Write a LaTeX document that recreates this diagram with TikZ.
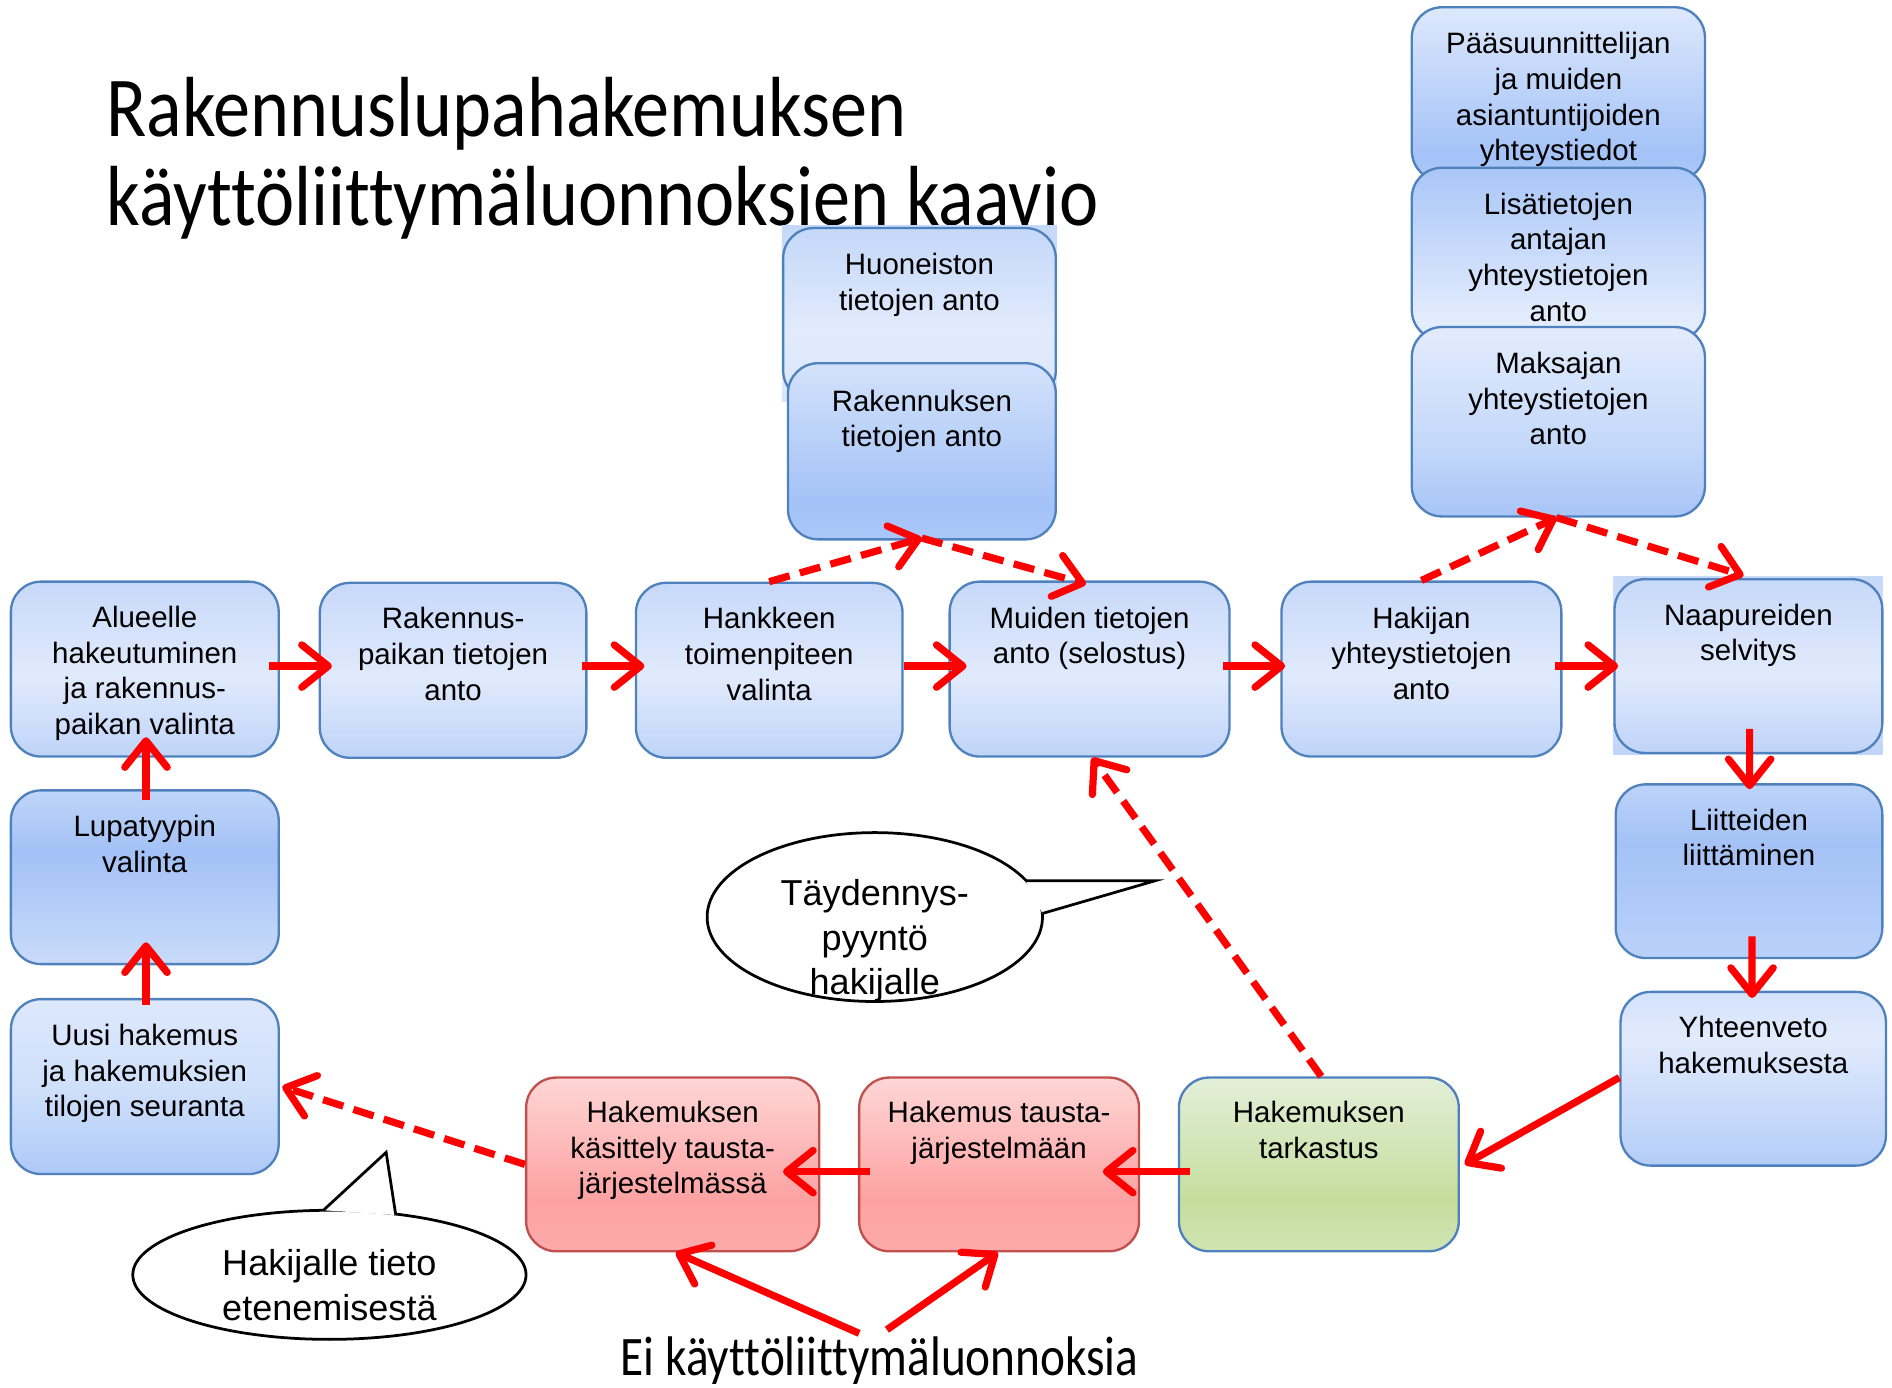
\documentclass[tikz,border=0pt]{standalone}
\usepackage{fontspec}
\usepackage{graphicx}
\setmainfont{Liberation Sans}
\newfontfamily\calib[Ligatures=NoCommon]{Carlito}
\usetikzlibrary{arrows.meta,calc,shapes.geometric}

\definecolor{bordB}{HTML}{4F81BD}
\definecolor{bordR}{HTML}{C0504D}
\definecolor{arrRed}{HTML}{FF0000}
\definecolor{rowT}{HTML}{C7D9F9}\definecolor{rowM}{HTML}{E1EAFC}\definecolor{rowB}{HTML}{BFD4F9}
\definecolor{lupT}{HTML}{C0D5F9}\definecolor{lupM}{HTML}{A3C1F6}\definecolor{lupB}{HTML}{C9DBFA}
\definecolor{liiT}{HTML}{BDD3F9}\definecolor{liiM}{HTML}{A4C2F6}\definecolor{liiB}{HTML}{BAD1F9}
\definecolor{huoT}{HTML}{C4D8F9}\definecolor{huoM}{HTML}{E2EBFD}\definecolor{huoB}{HTML}{DAE6FC}
\definecolor{rkrT}{HTML}{D3E2FB}\definecolor{rkrM}{HTML}{A3C2F7}\definecolor{rkrB}{HTML}{AAC7F8}
\definecolor{paaT}{HTML}{DDE8FC}\definecolor{paaM}{HTML}{A3C2F7}\definecolor{paaB}{HTML}{B0CBF8}
\definecolor{lisT}{HTML}{A9C6F7}\definecolor{lisM}{HTML}{E4EDFD}\definecolor{lisB}{HTML}{DFE9FC}
\definecolor{makT}{HTML}{E3ECFD}\definecolor{makM}{HTML}{C5D9FA}\definecolor{makB}{HTML}{A8C5F7}
\definecolor{yhtT}{HTML}{D2E1FB}\definecolor{yhtM}{HTML}{E2EBFD}\definecolor{yhtB}{HTML}{B4CDF8}
\definecolor{uusT}{HTML}{DDE8FC}\definecolor{uusM}{HTML}{CFE0FB}\definecolor{uusB}{HTML}{AEC9F8}
\definecolor{redT}{HTML}{FFD6D6}\definecolor{redM}{HTML}{FDA2A2}\definecolor{redB}{HTML}{FDAAAA}
\definecolor{grnT}{HTML}{E3EFD8}\definecolor{grnM}{HTML}{C5DE9E}\definecolor{grnB}{HTML}{D0E4B2}

\pgfdeclareverticalshading{shRow}{100bp}{color(0bp)=(rowB); color(25bp)=(rowB); color(48bp)=(rowM); color(75bp)=(rowT); color(100bp)=(rowT)}
\pgfdeclareverticalshading{shLupa}{100bp}{color(0bp)=(lupB); color(25bp)=(lupB); color(57bp)=(lupM); color(75bp)=(lupT); color(100bp)=(lupT)}
\pgfdeclareverticalshading{shLiit}{100bp}{color(0bp)=(liiB); color(25bp)=(liiB); color(58bp)=(liiM); color(75bp)=(liiT); color(100bp)=(liiT)}
\pgfdeclareverticalshading{shHuon}{100bp}{color(0bp)=(huoB); color(25bp)=(huoB); color(45bp)=(huoM); color(75bp)=(huoT); color(100bp)=(huoT)}
\pgfdeclareverticalshading{shRakr}{100bp}{color(0bp)=(rkrB); color(25bp)=(rkrB); color(35bp)=(rkrM); color(75bp)=(rkrT); color(100bp)=(rkrT)}
\pgfdeclareverticalshading{shPaa}{100bp}{color(0bp)=(paaB); color(25bp)=(paaB); color(32bp)=(paaM); color(75bp)=(paaT); color(100bp)=(paaT)}
\pgfdeclareverticalshading{shLisa}{100bp}{color(0bp)=(lisB); color(25bp)=(lisB); color(30bp)=(lisM); color(75bp)=(lisT); color(100bp)=(lisT)}
\pgfdeclareverticalshading{shMaks}{100bp}{color(0bp)=(makB); color(25bp)=(makB); color(45bp)=(makM); color(75bp)=(makT); color(100bp)=(makT)}
\pgfdeclareverticalshading{shYht}{100bp}{color(0bp)=(yhtB); color(25bp)=(yhtB); color(62bp)=(yhtM); color(75bp)=(yhtT); color(100bp)=(yhtT)}
\pgfdeclareverticalshading{shUusi}{100bp}{color(0bp)=(uusB); color(25bp)=(uusB); color(50bp)=(uusM); color(75bp)=(uusT); color(100bp)=(uusT)}
\pgfdeclareverticalshading{shRed}{100bp}{color(0bp)=(redB); color(25bp)=(redB); color(40bp)=(redM); color(75bp)=(redT); color(100bp)=(redT)}
\pgfdeclareverticalshading{shGreen}{100bp}{color(0bp)=(grnB); color(25bp)=(grnB); color(40bp)=(grnM); color(75bp)=(grnT); color(100bp)=(grnT)}

\tikzset{
  box/.style={rectangle, rounded corners=0.5cm, draw=bordB, line width=1.1pt, inner sep=0pt, shade},
  redbox/.style={box, draw=bordR, shading=shRed},
  txt/.style={align=center, inner sep=0pt, font=\fontsize{13.9}{16.8}\selectfont, yshift=-0.05cm},
  ctxt/.style={align=center, inner sep=0pt, font=\fontsize{17}{21}\selectfont, yshift=-0.06cm},
  arr/.style={draw=arrRed, line width=3.4pt, -{Straight Barb[length=12.5pt, width=20pt, round]}},
  darr/.style={arr, dash pattern=on 10pt off 5pt},
  callout/.style={ellipse, draw=black, line width=1.3pt, fill=white, inner sep=0pt},
  tail/.style={draw=black, line width=1.3pt, line join=miter},
}

\begin{document}
\begin{tikzpicture}[x=0.02cm, y=-0.02cm]
\useasboundingbox (0,0) rectangle (1568,1150);

% title
\node[anchor=base west, inner sep=0pt, font=\calib\fontsize{35}{40}\selectfont] (title1) at (88,113) {\scalebox{1}[1.15]{Rakennuslupahakemuksen}};
\node[anchor=base west, inner sep=0pt, font=\calib\fontsize{35}{40}\selectfont] (title2) at (88,187) {\scalebox{1}[1.15]{käyttöliittymäluonnoksien kaavio}};

% top middle stack
\shade[shading=shHuon] (648,187) rectangle (876,333);
\node[box, shading=shHuon, minimum width=4.52cm, minimum height=2.86cm] (huon) at (762,260.5) {};
\node[txt] (huonT) at (762,234) {\strut Huoneiston\\tietojen anto\strut};
\node[box, shading=shRakr, minimum width=4.44cm, minimum height=2.92cm] (rakr) at (764,374) {};
\node[txt] (rakrT) at (764,347) {\strut Rakennuksen\\tietojen anto\strut};

% top right stack
\node[box, shading=shPaa, minimum width=4.86cm, minimum height=2.88cm] (paa) at (1291.5,78) {};
\node[txt] (paaT) at (1291.5,80.5) {\strut Pääsuunnittelijan\\ja muiden\\asiantuntijoiden\\yhteystiedot\strut};
\node[box, shading=shLisa, minimum width=4.86cm, minimum height=2.86cm] (lisa) at (1291.5,210.5) {};
\node[txt] (lisaT) at (1291.5,213.5) {\strut Lisätietojen\\antajan\\yhteystietojen\\anto\strut};
\node[box, shading=shMaks, minimum width=4.86cm, minimum height=3.14cm] (maks) at (1291.5,349.5) {};
\node[txt] (maksT) at (1291.5,330.7) {\strut Maksajan\\yhteystietojen\\anto\strut};

% main row
\node[box, shading=shRow, minimum width=4.44cm, minimum height=2.9cm] (alue) at (120,554.5) {};
\node[txt] (alueT) at (120,556) {\strut Alueelle\\hakeutuminen\\ja rakennus-\\paikan valinta\strut};
\node[box, shading=shRow, minimum width=4.42cm, minimum height=2.9cm] (rakp) at (375.5,555.5) {};
\node[txt] (rakpT) at (375.5,542.3) {\strut Rakennus-\\paikan tietojen\\anto\strut};
\node[box, shading=shRow, minimum width=4.42cm, minimum height=2.9cm] (hank) at (637.5,555.5) {};
\node[txt] (hankT) at (637.5,542.3) {\strut Hankkeen\\toimenpiteen\\valinta\strut};
\node[box, shading=shRow, minimum width=4.64cm, minimum height=2.9cm] (muid) at (903,554.5) {};
\node[txt] (muidT) at (903,527) {\strut Muiden tietojen\\anto (selostus)\strut};
\node[box, shading=shRow, minimum width=4.64cm, minimum height=2.9cm] (haki) at (1178,554.5) {};
\node[txt] (hakiT) at (1178,541.7) {\strut Hakijan\\yhteystietojen\\anto\strut};
\shade[shading=shRow] (1337,478) rectangle (1560,625);
\node[box, shading=shRow, minimum width=4.44cm, minimum height=2.88cm] (naap) at (1449,552) {};
\node[txt] (naapT) at (1449,524.5) {\strut Naapureiden\\selvitys\strut};

% right column
\node[box, shading=shLiit, minimum width=4.42cm, minimum height=2.88cm] (liit) at (1449.5,722) {};
\node[txt] (liitT) at (1449.5,694.5) {\strut Liitteiden\\liittäminen\strut};
\node[box, shading=shYht, minimum width=4.4cm, minimum height=2.88cm] (yht) at (1453,894) {};
\node[txt] (yhtT) at (1453,866.5) {\strut Yhteenveto\\hakemuksesta\strut};

% bottom row
\node[box, shading=shGreen, minimum width=4.64cm, minimum height=2.88cm] (tark) at (1093,965) {};
\node[txt] (tarkT) at (1093,937) {\strut Hakemuksen\\tarkastus\strut};
\node[redbox, minimum width=4.64cm, minimum height=2.88cm] (taus) at (828,965) {};
\node[txt] (tausT) at (828,937) {\strut Hakemus tausta-\\järjestelmään\strut};
\node[redbox, minimum width=4.86cm, minimum height=2.88cm] (kasi) at (557.5,965) {};
\node[txt] (kasiT) at (557.5,951.3) {\strut Hakemuksen\\käsittely tausta-\\järjestelmässä\strut};

% left column
\node[box, shading=shLupa, minimum width=4.44cm, minimum height=2.88cm] (lupa) at (120,727) {};
\node[txt] (lupaT) at (120,699.5) {\strut Lupatyypin\\valinta\strut};
\node[box, shading=shUusi, minimum width=4.44cm, minimum height=2.9cm] (uusi) at (120,900.5) {};
\node[txt] (uusiT) at (120,887.7) {\strut Uusi hakemus\\ja hakemuksien\\tilojen seuranta\strut};

% callouts
\node[callout, minimum width=5.56cm, minimum height=2.8cm] (c1) at (725,760) {};
\coordinate (c1a) at ($(c1.center)+(125,-30)$);
\coordinate (c1t) at ($(c1.center)+(232,-30)$);
\coordinate (c1b) at ($(c1.center)+(139,-3)$);
\fill[white] (c1a) -- (c1t) -- (c1b) -- cycle;
\draw[tail] (c1a) -- (c1t) -- (c1b);
\node[ctxt] (c1T) at (725,777) {\strut Täydennys-\\pyyntö\\hakijalle\strut};

\node[callout, minimum width=6.52cm, minimum height=2.14cm] (c2) at (273,1056.5) {};
\coordinate (c2a) at ($(c2.center)+(-5,-53.5)$);
\coordinate (c2t) at ($(c2.center)+(47,-101.5)$);
\coordinate (c2b) at ($(c2.center)+(55,-49.5)$);
\fill[white] (c2a) -- (c2t) -- (c2b) -- cycle;
\draw[tail] (c2a) -- (c2t) -- (c2b);
\node[ctxt] (c2T) at (273,1065.5) {\strut Hakijalle tieto\\etenemisestä\strut};

% bottom label
\node[anchor=base, inner sep=0pt, font=\calib\fontsize{22.3}{26}\selectfont] (ei) at (729,1140) {\scalebox{1}[1.18]{Ei käyttöliittymäluonnoksia}};

% arrows
\draw[arr] ($(alue.east)+(-9,-2.5)$) -- ($(rakp.west)+(11,-3.5)$);
\draw[arr] ($(rakp.east)+(-5,-3.5)$) -- ($(hank.west)+(8,-3.5)$);
\draw[arr] ($(hank.east)+(0,-3.5)$) -- ($(muid.west)+(15,-2.5)$);
\draw[arr] ($(muid.east)+(-6,-2.5)$) -- ($(haki.west)+(4,-2.5)$);
\draw[arr] ($(haki.east)+(-6,-2.5)$) -- ($(naap.west)+(4,0)$);
\draw[arr] ($(naap.south)+(1,-21)$) -- ($(liit.north)+(0.5,5)$);
\draw[arr] ($(liit.south)+(2.5,-19)$) -- ($(yht.north)+(-1,6)$);
\draw[arr] ($(yht.west)+(0,-1)$) -- ($(tark.east)+(4,0)$);
\draw[arr] ($(tark.west)+(10,6)$) -- ($(taus.east)+(-31,6)$);
\draw[arr] ($(taus.west)+(10,6)$) -- ($(kasi.east)+(-31,6)$);
\draw[darr] (kasi.west) -- ($(uusi.east)+(2,0)$);
\draw[arr] ($(uusi.north)+(1,6)$) -- ($(lupa.south)+(1,-19)$);
\draw[arr] ($(lupa.north)+(1,9)$) -- ($(alue.south)+(1,-17)$);
\draw[darr] ($(tark.north)+(2,0)$) -- ($(muid.south)+(2,0)$);
\draw[darr] (hank.north) -- ($(rakr.south)+(0,-2)$);
\draw[darr] ($(rakr.south)+(0,-2)$) -- ($(muid.north)+(-3,3)$);
\draw[darr] (haki.north) -- ($(maks.south)+(-1.5,0)$);
\draw[darr] ($(maks.south)+(-1.5,0)$) -- ($(naap.north)+(-4,-2)$);
\draw[arr] ($(ei.base)+(-17,-35)$) -- ($(kasi.south)+(2.5,0)$);
\draw[arr] ($(ei.base)+(6,-38)$) -- ($(taus.south)+(-1,0)$);
\end{tikzpicture}
\end{document}
